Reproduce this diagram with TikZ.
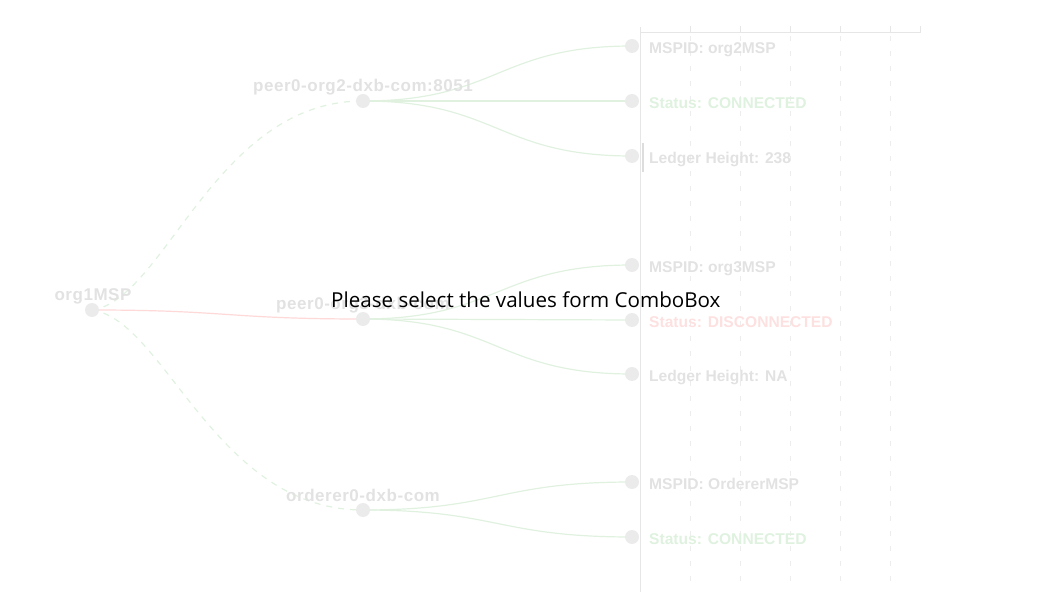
\documentclass[tikz,border=0pt]{standalone}
\usepackage{fontspec}
\setmainfont{Liberation Sans}
\newfontfamily\leaffont{Liberation Sans}
\newfontfamily\nodefont{Liberation Sans}[LetterSpace=3.2]
\newfontfamily\msgfont{Open Sans}
\definecolor{dotgray}{HTML}{EBEBEB}
\definecolor{lblgray}{HTML}{E2E2E2}
\definecolor{glink}{HTML}{E0F1E0}
\definecolor{gtext}{HTML}{DFF1DF}
\definecolor{plink}{HTML}{FFD8D8}
\definecolor{ptext}{HTML}{FDE0E0}
\definecolor{axisgray}{HTML}{E6E6E6}
\definecolor{gridgray}{HTML}{EDEDED}
\definecolor{bargray}{HTML}{DDDDDD}
\pgfdeclarelayer{bg}
\pgfsetlayers{bg,main}
\tikzset{
  dot/.style={circle,fill=dotgray,draw=none,minimum size=14pt,inner sep=0pt},
  nlbl/.style={anchor=base,inner sep=0pt,text=lblgray,font=\nodefont\bfseries\fontsize{17}{20}\selectfont},
  leaf/.style={anchor=base west,inner sep=0pt,text=lblgray,font=\leaffont\bfseries\fontsize{15.6}{18}\selectfont},
  glinkstyle/.style={draw=glink,line width=1.2pt},
  dlink/.style={draw=glink,line width=1.2pt,dash pattern=on 6pt off 6pt},
  plinkstyle/.style={draw=plink,line width=1.2pt},
  axisline/.style={draw=axisgray,line width=1pt},
  gridline/.style={draw=gridgray,line width=0.8pt,dash pattern=on 5pt off 10pt},
}
\begin{document}
\begin{tikzpicture}[x=1pt,y=-1pt]
\useasboundingbox (0,0) rectangle (1055,601);
% axis
\coordinate (ax0) at (640,27);
\coordinate (ax1) at (640,592);
\coordinate (axr) at (920,33);
\coordinate (axl) at (640,33);
\draw[axisline] (ax0) -- (ax1);
\draw[axisline] (axl) -- (axr);
\foreach \x in {690,740,790,840,890}{
  \draw[axisline] (\x,26) -- (\x,33);
  \draw[gridline] (\x,36) -- (\x,590);
}
\draw[axisline] (920,26) -- (920,33);
\draw[draw=bargray,line width=2pt] (642.5,143) -- (642.5,172);
% nodes
\node[dot] (org) at (92,310) {};
\node[dot] (p2) at (363,101) {};
\node[dot] (p3) at (363,319) {};
\node[dot] (ord) at (363,510) {};
\node[dot] (a1) at (632,46) {};
\node[dot] (a2) at (632,101) {};
\node[dot] (a3) at (632,156) {};
\node[dot] (b1) at (632,265) {};
\node[dot] (b2) at (632,320) {};
\node[dot] (b3) at (632,374) {};
\node[dot] (c1) at (632,482) {};
\node[dot] (c2) at (632,537) {};
% labels
\node[nlbl] (lorg) at (93,301) {org1MSP};
\node[nlbl] (lp2) at (363,92) {peer0-org2-dxb-com:8051};
\node[nlbl] (lp3) at (363,310) {peer0-org3-dxb-com};
\node[nlbl] (lord) at (363,501) {orderer0-dxb-com};
\node[leaf] (ta1) at (649,53.5) {MSPID: org2MSP};
\node[leaf,text=gtext] (ta2) at (649,108.5) {Status: CONNECTED};
\node[leaf] (ta3) at (649,163.5) {Ledger Height: 238};
\node[leaf] (tb1) at (649,272.5) {MSPID: org3MSP};
\node[leaf,text=ptext] (tb2) at (649,327.5) {Status: DISCONNECTED};
\node[leaf] (tb3) at (649,381.5) {Ledger Height: NA};
\node[leaf] (tc1) at (649,489.5) {MSPID: OrdererMSP};
\node[leaf,text=gtext] (tc2) at (649,544.5) {Status: CONNECTED};
% message
\node[anchor=base west,inner sep=0pt,font=\msgfont\fontsize{20.6}{24}\selectfont,text=black] (msg) at (331,308) {Please select the values form ComboBox};
% links
\begin{pgfonlayer}{bg}
\draw[dlink] (org.center) .. controls +(73,-10) and +(-148,0) .. (p2.center);
\draw[dlink] (org.center) .. controls +(73,10) and +(-148,0) .. (ord.center);
\draw[plinkstyle] (org.center) .. controls +(135.5,0) and +(-135.5,0) .. (p3.center);
\foreach \s/\t in {p2/a1,p2/a2,p2/a3,p3/b1,p3/b2,p3/b3,ord/c1,ord/c2}{
  \draw[glinkstyle] (\s.center) .. controls +(134.5,0) and +(-134.5,0) .. (\t.center);
}
\end{pgfonlayer}
\end{tikzpicture}
\end{document}
